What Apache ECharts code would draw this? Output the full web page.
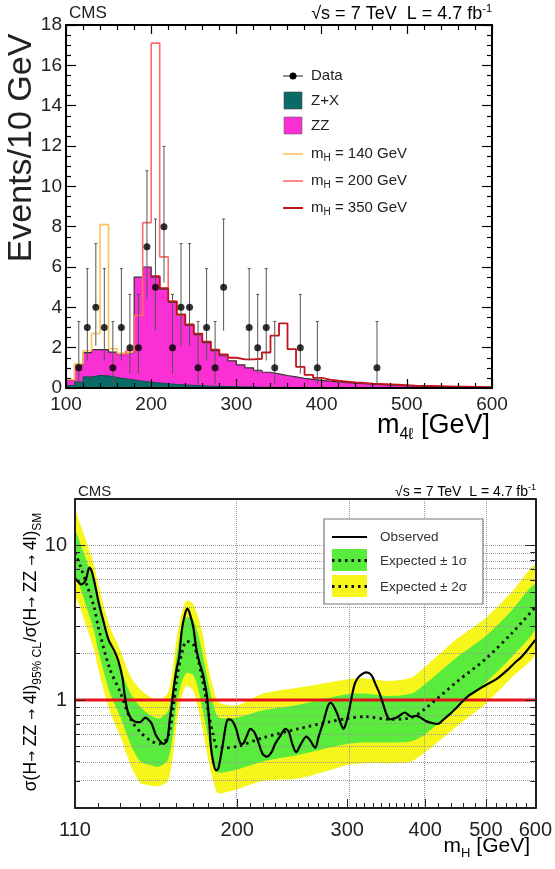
<!DOCTYPE html>
<html><head><meta charset="utf-8">
<script src="https://cdn.jsdelivr.net/npm/echarts@6/dist/echarts.min.js"></script>
<style>html,body{margin:0;padding:0;background:#fff}#c{width:555px;height:869px}</style>
</head><body><div id="c"></div>
<script>
// ================= TOP PANEL DATA (m4l distribution) =================
const binStart = 100, binWidth = 10;
// Z+X background per 10 GeV bin, bins 100-110 ... 590-600
const zxBkg = [0.12,0.30,0.55,0.62,0.60,0.52,0.46,0.40,0.34,0.29,0.25,0.21,0.18,0.15,0.13,0.11,0.09,0.08,0.07,0.06,0.05,0.045,0.04,0.035,0.03,0.027,0.024,0.021,0.019,0.017,0.015,0.013,0.012,0.011,0.01,0.009,0.008,0.007,0.007,0.006,0.006,0.005,0.005,0.004,0.004,0.004,0.003,0.003,0.003,0.003];
// ZZ background per bin
const zzBkg = [0.28,0.85,1.20,1.28,1.30,1.26,1.19,1.35,5.16,5.71,5.25,4.69,4.07,3.45,2.97,2.54,2.16,1.77,1.53,1.29,1.10,0.955,0.84,0.745,0.67,0.593,0.526,0.459,0.411,0.363,0.325,0.287,0.258,0.229,0.2,0.181,0.162,0.143,0.123,0.114,0.094,0.085,0.075,0.066,0.061,0.056,0.047,0.042,0.037,0.032];
// signal + background outlines
const sig140Start = 100;
const sig140 = [0.42,1.2,1.85,2.7,8.1,1.95,1.72,1.8];
const sig200Start = 160;
const sig200 = [1.68,1.85,3.6,8.2,17.1,6.5,4.3,3.62];
const sig350Start = 200;
const sig350 = [5.55,4.95,4.3,3.65,3.15,2.7,2.3,1.9,1.67,1.5,1.42,1.42,1.45,1.76,2.6,3.2,1.93,1.05,0.65,0.5,0.42,0.36,0.32,0.28,0.25,0.22,0.2,0.18,0.16,0.14,0.12,0.11,0.1,0.09,0.08,0.07,0.065,0.06,0.05,0.045];
// observed events
const dataMass   = [115,125,135,145,155,165,175,185,195,205,215,225,235,245,255,265,275,285,315,325,335,345,375,395,465];
const dataCounts = [1,3,4,3,1,3,2,2,7,5,8,2,4,4,1,3,1,5,3,2,3,1,2,1,1];
const dataLow    = [0.17,1.37,2.09,1.37,0.17,1.37,0.71,0.71,4.42,2.84,5.23,0.71,2.09,2.09,0.17,1.37,0.17,2.84,1.37,0.71,1.37,0.17,0.71,0.17,0.17];
const dataHigh   = [3.30,5.92,7.16,5.92,3.30,5.92,4.64,4.64,10.77,8.38,11.98,4.64,7.16,7.16,3.30,5.92,3.30,8.38,5.92,4.64,5.92,3.30,4.64,3.30,3.30];

// ================= BOTTOM PANEL DATA (limit) =================
const expMass   = [110,112,115,118,120,125,130,135,140,145,150,155,158,160,163,166,170,173,176,180,183,186,190,200,220,250,280,300,320,350,380,400,450,500,550,600];
const expMedian = [9.0,7.5,5.5,4.0,2.9,1.6,1.12,0.75,0.62,0.55,0.52,0.58,0.9,1.35,2.0,2.4,2.3,1.85,1.35,0.82,0.6,0.49,0.49,0.50,0.57,0.65,0.72,0.76,0.78,0.75,0.77,0.88,1.32,1.85,2.7,4.0];
const exp1Lo    = [6.5,5.4,3.9,2.8,2.05,1.12,0.78,0.52,0.40,0.38,0.37,0.41,0.62,0.95,1.3,1.5,1.45,1.2,0.88,0.55,0.41,0.34,0.34,0.355,0.40,0.44,0.49,0.52,0.53,0.53,0.54,0.6,0.9,1.3,1.9,2.9];
const exp1Hi    = [12.5,10.5,7.8,5.7,4.2,2.3,1.6,1.1,0.9,0.8,0.76,0.85,1.3,1.95,2.9,3.43,3.3,2.7,2.0,1.25,0.95,0.78,0.76,0.77,0.86,0.93,1.03,1.09,1.1,1.06,1.1,1.27,1.9,2.6,3.8,5.6];
const exp2Lo    = [4.85,4.0,2.9,2.1,1.55,0.85,0.58,0.38,0.29,0.28,0.277,0.30,0.45,0.7,1.05,1.24,1.15,0.9,0.65,0.4,0.3,0.25,0.25,0.264,0.30,0.31,0.35,0.38,0.39,0.39,0.4,0.46,0.68,0.95,1.4,2.0];
const exp2Hi    = [16.8,14.0,10.3,7.5,5.5,3.0,2.1,1.42,1.17,1.05,1.0,1.12,1.7,2.5,3.7,4.4,4.2,3.5,2.7,1.6,1.2,0.98,0.94,0.92,1.1,1.2,1.3,1.36,1.38,1.33,1.4,1.65,2.5,3.4,5.0,7.4];
const obsMass  = [110,111,112.5,113.5,114.5,116,117,118.5,120,122,124.5,127,129,131,132,133.5,135.5,138,140,142.5,144.5,146,148,150,152.5,154.5,156,157,158.5,160,161.5,163,165,166.5,168,170,172,174,176,178,179,180.5,181.5,183,185,186.5,188,190,192,193.5,196,199,202,204,207,210,213,216,219.5,223,227,230,234,239,242,245,248.5,253,258,261.5,266.5,270,275,279,282,285,289,293,296,299,302,305,309,314,322,328,332,338,343,347,351,356,360,365,371,376,380,387,395,401,410,419,428,438,450,460,470,483,500,519,540,557,570,585,600];
const obsLimit = [6.1,5.9,5.6,5.7,6.0,7.2,6.8,5.5,4.3,3.3,2.45,2.1,1.8,1.4,1.1,0.85,0.75,0.72,0.72,0.77,0.74,0.70,0.6,0.55,0.52,0.55,0.75,0.9,1.25,1.6,1.9,2.8,3.6,3.9,3.6,3.0,2.15,1.75,1.5,1.2,1.04,0.7,0.5,0.4,0.35,0.36,0.42,0.54,0.7,0.75,0.74,0.66,0.53,0.52,0.58,0.65,0.62,0.54,0.45,0.43,0.46,0.52,0.58,0.65,0.62,0.52,0.46,0.52,0.58,0.55,0.49,0.58,0.73,0.9,0.96,0.92,0.82,0.7,0.65,0.72,0.85,1.05,1.3,1.43,1.51,1.45,1.3,1.1,0.92,0.8,0.75,0.76,0.77,0.8,0.83,0.8,0.78,0.79,0.76,0.73,0.71,0.70,0.75,0.81,0.9,0.99,1.07,1.15,1.25,1.36,1.55,1.75,1.9,2.15,2.45];
const smLevel = 1;
const botXLabels = [110,200,300,400,500,600];
const botYLabels = [1,10];
const botXGrid = [200,300,400,500];
const botYGrid = [0.3,0.4,0.5,0.6,0.7,0.8,0.9,2,3,4,5,6,7,8,9,10];
const botYMinor = [0.3,0.4,0.5,0.6,0.7,0.8,0.9,2,3,4,5,6,7,8,9];
const botXMinor = [120,130,140,150,160,170,180,190,210,220,230,240,250,260,270,280,290,310,320,330,340,350,360,370,380,390,420,440,460,480,520,540,560,580];

// ================= BUILD =================
const L = v => Math.log10(v);
const FONT = 'Liberation Sans, Arial, Helvetica, sans-serif';
function histPts(start, vals){
  const pts = vals.map((v,i)=>[start + i*binWidth, v]);
  pts.push([start + vals.length*binWidth, vals[vals.length-1]]);
  return pts;
}
const totalBkg = zzBkg.map((v,i)=>v + zxBkg[i]);

const chart = echarts.init(document.getElementById('c'), null, {renderer:'canvas'});

const tickStyle = {color:'#000', width:1.2};
const topX = (pos, labels) => ({
  type:'value', gridIndex:0, position:pos, min:100, max:600, interval:100, z:10,
  axisLine:{show:true, onZero:false, lineStyle:{color:'#000', width:2}},
  axisTick:{show:true, inside:true, length:9, lineStyle:tickStyle},
  minorTick:{show:true, splitNumber:5, length:5, lineStyle:tickStyle},
  axisLabel:{show:labels, fontSize:19, color:'#222', fontFamily:FONT, margin:7},
  splitLine:{show:false}
});
const topY = (pos, labels) => ({
  type:'value', gridIndex:0, position:pos, min:0, max:18, interval:2, z:10,
  axisLine:{show:true, onZero:false, lineStyle:{color:'#000', width:2}},
  axisTick:{show:true, inside:true, length:10, lineStyle:tickStyle},
  minorTick:{show:true, splitNumber:4, length:5, lineStyle:tickStyle},
  axisLabel:{show:labels, fontSize:19, color:'#222', fontFamily:FONT, margin:4},
  splitLine:{show:false}
});
const botAxisBase = {
  type:'value', gridIndex:1, z:10,
  axisLine:{show:true, onZero:false, lineStyle:{color:'#222', width:2}},
  splitLine:{show:false}
};
const bx = (pos, labelVals, tickVals, len, showLine) => Object.assign({}, botAxisBase, {
  position:pos, min:L(110), max:L(600),
  axisLine:{show:showLine, onZero:false, lineStyle:{color:'#222', width:2}},
  axisTick:{show:tickVals.length>0, inside:true, length:len, customValues:tickVals.map(L), lineStyle:{color:'#222', width:1}},
  axisLabel:{show:labelVals.length>0, customValues:labelVals.map(L), formatter:v=>String(Math.round(Math.pow(10,v))), fontSize:20, color:'#222', fontFamily:FONT, margin:12}
});
const by = (pos, labelVals, tickVals, len, showLine) => Object.assign({}, botAxisBase, {
  position:pos, min:L(0.2), max:L(20),
  axisLine:{show:showLine, onZero:false, lineStyle:{color:'#222', width:2}},
  axisTick:{show:tickVals.length>0, inside:true, length:len, customValues:tickVals.map(L), lineStyle:{color:'#222', width:1}},
  axisLabel:{show:labelVals.length>0, customValues:labelVals.map(L), formatter:v=>String(Math.round(Math.pow(10,v))), fontSize:20, color:'#222', fontFamily:FONT, margin:8}
});

function bandSeries(lo, hi, color, z){
  return {
    type:'custom', xAxisIndex:2, yAxisIndex:2, clip:true, silent:true, z:z,
    data:[[L(expMass[0]), L(lo[0])]],
    renderItem:(params, api)=>{
      const pts=[];
      for(let i=0;i<expMass.length;i++) pts.push(api.coord([L(expMass[i]), L(hi[i])]));
      for(let i=expMass.length-1;i>=0;i--) pts.push(api.coord([L(expMass[i]), L(lo[i])]));
      return {type:'polygon', shape:{points:pts, smooth:0.25}, style:{fill:color}};
    }
  };
}

const series = [
  // --- top panel ---
  {type:'line', name:'ZZ', xAxisIndex:0, yAxisIndex:0, step:'end', symbol:'none', z:1,
   data:histPts(binStart, totalBkg), lineStyle:{color:'#333', width:1.2},
   areaStyle:{color:'#fa30d4', opacity:1, origin:'start'}},
  {type:'line', name:'Z+X', xAxisIndex:0, yAxisIndex:0, step:'end', symbol:'none', z:2,
   data:histPts(binStart, zxBkg), lineStyle:{color:'#0b4f4c', width:1},
   areaStyle:{color:'#0a6b66', opacity:1, origin:'start'}},
  {type:'line', name:'mH=140', xAxisIndex:0, yAxisIndex:0, step:'end', symbol:'none', z:3,
   data:histPts(sig140Start, sig140), lineStyle:{color:'#ffc35a', width:1.6}},
  {type:'line', name:'mH=200', xAxisIndex:0, yAxisIndex:0, step:'end', symbol:'none', z:3,
   data:histPts(sig200Start, sig200), lineStyle:{color:'#ff6a6a', width:1.6}},
  {type:'line', name:'mH=350', xAxisIndex:0, yAxisIndex:0, step:'end', symbol:'none', z:3,
   data:histPts(sig350Start, sig350), lineStyle:{color:'#c4121a', width:1.8}},
  {type:'custom', name:'errors', xAxisIndex:0, yAxisIndex:0, z:4, silent:true,
   data:dataMass.map((m,i)=>[m, dataLow[i], dataHigh[i]]),
   encode:{x:0, y:[1,2]},
   renderItem:(params, api)=>{
     const a = api.coord([api.value(0), api.value(1)]);
     const b = api.coord([api.value(0), api.value(2)]);
     const st = {stroke:'#555', lineWidth:1};
     return {type:'group', children:[
       {type:'line', shape:{x1:a[0], y1:a[1], x2:b[0], y2:b[1]}, style:st},
       {type:'line', shape:{x1:b[0]-1.5, y1:b[1], x2:b[0]+1.5, y2:b[1]}, style:st}
     ]};
   }},
  {type:'scatter', name:'Data', xAxisIndex:0, yAxisIndex:0, z:5, symbol:'circle', symbolSize:7,
   itemStyle:{color:'#000'}, data:dataMass.map((m,i)=>[m, dataCounts[i]])},
  // --- bottom panel ---
  bandSeries(exp2Lo, exp2Hi, '#f6f61c', 1),
  bandSeries(exp1Lo, exp1Hi, '#5aec3c', 2),
  {type:'line', name:'SM', xAxisIndex:2, yAxisIndex:2, z:4, symbol:'none', silent:true,
   data:[[L(110), L(smLevel)], [L(600), L(smLevel)]], lineStyle:{color:'#e8101a', width:3},
   markLine:{silent:true, symbol:'none', label:{show:false},
     lineStyle:{type:'dotted', color:'#9a9a9a', width:1},
     data: botYGrid.map(v=>({yAxis:L(v)})).concat(botXGrid.map(v=>({xAxis:L(v)})))}},
  {type:'line', name:'Expected', xAxisIndex:2, yAxisIndex:2, z:5, symbol:'none', smooth:0.3,
   data:expMass.map((m,i)=>[L(m), L(expMedian[i])]), lineStyle:{color:'#111', width:2.8, type:[2.5,4]}},
  {type:'line', name:'Observed', xAxisIndex:2, yAxisIndex:2, z:6, symbol:'none', smooth:0.3,
   data:obsMass.map((m,i)=>[L(m), L(obsLimit[i])]), lineStyle:{color:'#000', width:2.2}}
];

const sub = {fontSize:10, fontFamily:FONT, color:'#222', verticalAlign:'bottom', lineHeight:14};
const big = {fontSize:15, fontFamily:FONT, color:'#222', verticalAlign:'bottom', lineHeight:18, padding:[0,0,2,0]};
function legLine(y, color, w){ return {type:'line', shape:{x1:283,y1:y,x2:303,y2:y}, style:{stroke:color, lineWidth:w}}; }
function legText(y, txt, rich){ return {type:'text', x:311, y:y, style:{text:txt, rich:rich, font:'15px '+FONT, fill:'#222', verticalAlign:'middle', align:'left'}}; }
const mhRich = {a:big, s:sub};
const yTitleRich = {
  a:{fontSize:17.5, fontFamily:FONT, color:'#222', verticalAlign:'bottom', lineHeight:22, padding:[0,0,4,0]},
  r:{fontSize:13, fontFamily:'DejaVu Sans', color:'#222', verticalAlign:'bottom', lineHeight:22, padding:[0,0,5,0]},
  s:{fontSize:12, fontFamily:FONT, color:'#222', verticalAlign:'bottom', lineHeight:16}
};

const graphics = [
  // top panel labels
  {type:'text', x:69, y:13, style:{text:'CMS', font:'17px '+FONT, fill:'#222', verticalAlign:'middle'}},
  {type:'text', x:492, y:14, style:{text:'{a|√s = 7 TeV  L = 4.7 fb}{s|-1}', align:'right', verticalAlign:'middle',
     rich:{a:{fontSize:18, fontFamily:FONT, color:'#222', verticalAlign:'top', lineHeight:21, padding:[2,0,0,0]}, s:{fontSize:11, fontFamily:FONT, color:'#222', verticalAlign:'top', lineHeight:21}}}},
  {type:'text', x:22, y:148, rotation:Math.PI/2, style:{text:'Events/10 GeV', font:'34px '+FONT, fill:'#222', align:'center', verticalAlign:'middle'}},
  {type:'text', x:490, y:428, style:{text:'{a|m}{s|4ℓ}{a| [GeV]}', align:'right', verticalAlign:'middle',
     rich:{a:{fontSize:27, fontFamily:FONT, color:'#222', verticalAlign:'bottom', lineHeight:30, padding:[0,0,4,0]}, s:{fontSize:16, fontFamily:FONT, color:'#222', verticalAlign:'bottom', lineHeight:22}}}},
  // top legend
  legLine(76, '#222', 1),
  {type:'circle', shape:{cx:293, cy:76, r:3.5}, style:{fill:'#000'}},
  legText(76, 'Data'),
  {type:'rect', shape:{x:284, y:92, width:18, height:17}, style:{fill:'#0a6b66', stroke:'#444', lineWidth:0.6}},
  legText(100.5, 'Z+X'),
  {type:'rect', shape:{x:284, y:117, width:18, height:17}, style:{fill:'#fa30d4', stroke:'#666', lineWidth:0.6}},
  legText(125.5, 'ZZ'),
  legLine(154, '#ffc35a', 1.6),
  legText(154, '{a|m}{s|H}{a| = 140 GeV}', mhRich),
  legLine(181, '#ff6a6a', 1.6),
  legText(181, '{a|m}{s|H}{a| = 200 GeV}', mhRich),
  legLine(208, '#c4121a', 2),
  legText(208, '{a|m}{s|H}{a| = 350 GeV}', mhRich),
  // bottom panel labels
  {type:'text', x:78, y:492, style:{text:'CMS', font:'15px '+FONT, fill:'#222', verticalAlign:'middle'}},
  {type:'text', x:536, y:492, style:{text:'{a|√s = 7 TeV  L = 4.7 fb}{s|-1}', align:'right', verticalAlign:'middle',
     rich:{a:{fontSize:14, fontFamily:FONT, color:'#222', verticalAlign:'top', lineHeight:17, padding:[2,0,0,0]}, s:{fontSize:9, fontFamily:FONT, color:'#222', verticalAlign:'top', lineHeight:17}}}},
  {type:'text', x:530, y:848, style:{text:'{a|m}{s|H}{a| [GeV]}', align:'right', verticalAlign:'middle',
     rich:{a:{fontSize:21, fontFamily:FONT, color:'#222', verticalAlign:'bottom', lineHeight:24, padding:[0,0,3,0]}, s:{fontSize:13, fontFamily:FONT, color:'#222', verticalAlign:'bottom', lineHeight:18}}}},
  {type:'text', x:33, y:652, rotation:Math.PI/2, style:{text:'{a|σ(H}{r|→}{a| ZZ }{r|→}{a| 4l)}{s|95% CL}{a|/σ(H}{r|→}{a| ZZ }{r|→}{a| 4l)}{s|SM}', align:'center', verticalAlign:'middle',
     rich:yTitleRich}},
  // bottom legend
  {type:'rect', shape:{x:324, y:519, width:159, height:85}, style:{fill:'#fff', stroke:'#777', lineWidth:1.2}, z:20},
  {type:'line', shape:{x1:332, y1:537, x2:367, y2:537}, style:{stroke:'#000', lineWidth:2.2}, z:21},
  {type:'rect', shape:{x:332, y:549, width:35, height:22}, style:{fill:'#5aec3c'}, z:21},
  {type:'line', shape:{x1:332, y1:560.5, x2:367, y2:560.5}, style:{stroke:'#111', lineWidth:2.8, lineDash:[2.5,4]}, z:22},
  {type:'rect', shape:{x:332, y:575, width:35, height:22}, style:{fill:'#f6f61c'}, z:21},
  {type:'line', shape:{x1:332, y1:586.5, x2:367, y2:586.5}, style:{stroke:'#111', lineWidth:2.8, lineDash:[2.5,4]}, z:22},
  {type:'text', x:380, y:537, z:22, style:{text:'Observed', font:'13.5px '+FONT, fill:'#333', verticalAlign:'middle'}},
  {type:'text', x:380, y:561, z:22, style:{text:'Expected ± 1σ', font:'13.5px '+FONT, fill:'#333', verticalAlign:'middle'}},
  {type:'text', x:380, y:587, z:22, style:{text:'Expected ± 2σ', font:'13.5px '+FONT, fill:'#333', verticalAlign:'middle'}}
];

chart.setOption({
  animation:false,
  backgroundColor:'#fff',
  grid:[
    {left:66, right:63, top:25, bottom:481, show:false},
    {left:75, right:18, top:499, bottom:61, show:false}
  ],
  xAxis:[
    topX('bottom', true), topX('top', false),
    bx('bottom', botXLabels, botXGrid, 9, true),
    bx('bottom', [], botXMinor, 5, false),
    bx('top', [], [], 5, true)
  ],
  yAxis:[
    topY('left', true), topY('right', false),
    by('left', botYLabels, botYLabels, 10, true),
    by('left', [], botYMinor, 5, false),
    by('right', [], botYLabels, 10, true),
    by('right', [], botYMinor, 5, false)
  ],
  series:series,
  graphic:graphics
});
</script></body></html>
